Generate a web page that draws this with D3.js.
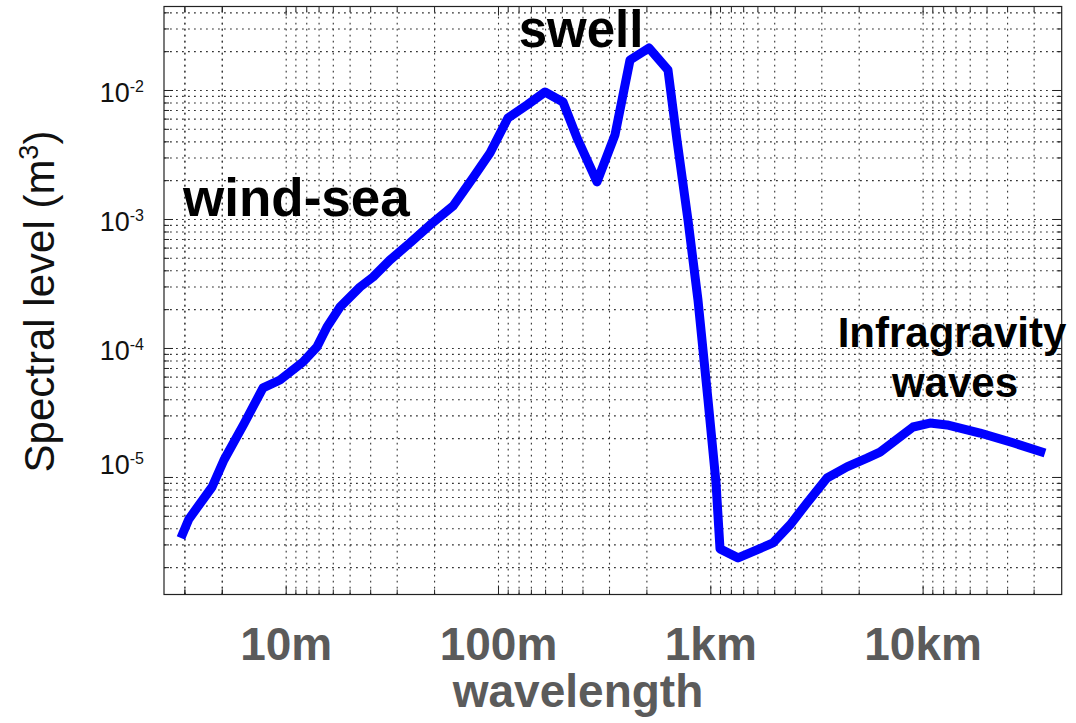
<!DOCTYPE html>
<html>
<head>
<meta charset="utf-8">
<script src="https://cdn.jsdelivr.net/npm/d3@7"></script>
<style>
  body { margin: 0; background: #fff; }
  svg { display: block; }
</style>
</head>
<body>
<svg id="chart" width="1076" height="723"></svg>
<script>
// Ocean surface wave spectrum: spectral level against wavelength
const wavelengthM = [
  3.21, 3.50, 4.50, 5.12, 6.36, 7.82, 9.40, 12.06, 14.04, 15.65,
  18.03, 22.4, 25.8, 31.0, 38.5, 47.8, 61.4, 76.2, 91.7, 111.4,
  137, 166.5, 202.4, 235.6, 292.7, 355.7, 418.7, 514.2, 632, 696.7,
  785, 875, 975.5, 1064, 1111, 1351, 1974, 2374, 2855, 3545,
  4403, 5471, 6301, 9013, 10835, 13030, 18640, 26660, 37720
];
const spectralLevel = [
  3.37e-6, 4.72e-6, 8.36e-6, 1.355e-5, 2.58e-5, 4.90e-5, 5.65e-5, 7.78e-5, 1.02e-4, 1.456e-4,
  2.08e-4, 2.97e-4, 3.55e-4, 4.81e-4, 6.52e-4, 8.97e-4, 1.26e-3, 2.08e-3, 3.25e-3, 6.07e-3,
  7.65e-3, 9.65e-3, 8.07e-3, 4.25e-3, 1.94e-3, 4.48e-3, 1.708e-2, 2.117e-2, 1.429e-2, 4.09e-3,
  9.82e-4, 2.35e-4, 3.95e-5, 8.98e-6, 2.77e-6, 2.36e-6, 3.08e-6, 4.25e-6, 6.29e-6, 9.82e-6,
  1.197e-5, 1.40e-5, 1.56e-5, 2.44e-5, 2.62e-5, 2.53e-5, 2.19e-5, 1.84e-5, 1.535e-5
];
const xTickValues = [10, 100, 1000, 10000];
const xTickLabels = ["10m", "100m", "1km", "10km"];
const yTickValues = [1e-2, 1e-3, 1e-4, 1e-5];
const yTickExponents = ["-2", "-3", "-4", "-5"];
const regionLabels = ["wind-sea", "swell", "Infragravity", "waves"];

const svg = d3.select("#chart");
const plot = { left: 164, right: 1061.7, top: 6.5, bottom: 594.5 };

const x = d3.scaleLog().domain([2.672, 45200]).range([plot.left, plot.right]);
const y = d3.scaleLog().domain([1.227e-6, 0.04439]).range([plot.bottom, plot.top]);

// Grid positions: x grid follows a reciprocal (frequency-based) spacing in each decade
const xGrid = [];
for (let k = 0; k <= 4; k++) {
  const base = Math.pow(10, k);
  [1, 10 / 9, 10 / 8, 10 / 7, 10 / 6, 10 / 5, 10 / 4, 10 / 3, 10 / 2].forEach(m => {
    const v = base * m;
    if (v > x.domain()[0] && v < x.domain()[1]) xGrid.push(v);
  });
}
const xGridLow = [10 / 3, 5].filter(v => v > x.domain()[0]);
xGridLow.forEach(v => xGrid.push(v));

const yGrid = [];
for (let k = -6; k <= -2; k++) {
  for (let m = 1; m <= 9; m++) {
    const v = m * Math.pow(10, k);
    if (v > y.domain()[0] && v < y.domain()[1]) yGrid.push(v);
  }
}

const h = plot.bottom - plot.top;
const w = plot.right - plot.left;

// dotted grid
const gridStyle = g => g.call(s => s.select(".domain").remove())
  .call(s => s.selectAll(".tick line")
    .attr("stroke", "#333").attr("stroke-width", 1.1)
    .attr("stroke-dasharray", "1.8,4.2"))
  .call(s => s.selectAll(".tick text").remove());

svg.append("g")
  .attr("transform", `translate(0,${plot.bottom})`)
  .call(d3.axisBottom(x).tickValues(xGrid).tickSize(-h))
  .call(gridStyle);

svg.append("g")
  .attr("transform", `translate(${plot.left},0)`)
  .call(d3.axisLeft(y).tickValues(yGrid).tickSize(-w))
  .call(gridStyle);

// inner ticks on all four sides
const isMajorX = v => xTickValues.includes(v);
const isMajorY = v => yTickValues.some(t => Math.abs(t - v) / t < 1e-9);
const tickStyle = g => g.call(s => s.select(".domain").remove())
  .call(s => s.selectAll(".tick text").remove())
  .call(s => s.selectAll(".tick line").attr("stroke", "#222").attr("stroke-width", 1));

function innerTicks(axisFn, scale, values, isMajor, transform, sign) {
  const g = svg.append("g").attr("transform", transform)
    .call(axisFn(scale).tickValues(values).tickSize(0))
    .call(tickStyle);
  g.selectAll(".tick line")
    .attr(axisFn === d3.axisBottom || axisFn === d3.axisTop ? "y2" : "x2",
      d => sign * (isMajor(d) ? 9 : 5));
}
innerTicks(d3.axisBottom, x, xGrid, isMajorX, `translate(0,${plot.bottom})`, -1);
innerTicks(d3.axisTop, x, xGrid, isMajorX, `translate(0,${plot.top})`, 1);
innerTicks(d3.axisLeft, y, yGrid, isMajorY, `translate(${plot.left},0)`, 1);
innerTicks(d3.axisRight, y, yGrid, isMajorY, `translate(${plot.right},0)`, -1);

// frame
svg.append("rect")
  .attr("x", plot.left).attr("y", plot.top)
  .attr("width", w).attr("height", h)
  .attr("fill", "none").attr("stroke", "#222").attr("stroke-width", 1.2);

// spectrum curve
const pts = wavelengthM.map((d, i) => [d, spectralLevel[i]]);
svg.append("path")
  .datum(pts)
  .attr("fill", "none")
  .attr("stroke", "#0000ff")
  .attr("stroke-width", 9)
  .attr("stroke-linejoin", "round")
  .attr("stroke-linecap", "butt")
  .attr("d", d3.line().x(d => x(d[0])).y(d => y(d[1])));

// x axis labels
const xLab = svg.append("g")
  .attr("transform", `translate(0,${plot.bottom})`)
  .call(d3.axisBottom(x).tickValues(xTickValues)
    .tickFormat((d, i) => xTickLabels[i]).tickSize(0).tickPadding(0));
xLab.select(".domain").remove();
xLab.selectAll(".tick text")
  .attr("dy", null).attr("y", 65)
  .attr("font-family", "'Liberation Sans', Arial, sans-serif")
  .attr("font-weight", "bold").attr("font-size", 46)
  .attr("fill", "#5b5b5b");

svg.append("text")
  .attr("x", 578).attr("y", 707)
  .attr("text-anchor", "middle")
  .attr("font-family", "'Liberation Sans', Arial, sans-serif")
  .attr("font-weight", "bold").attr("font-size", 46)
  .attr("fill", "#5b5b5b")
  .text("wavelength");

// y axis labels: powers of ten
const yLab = svg.append("g").selectAll("text")
  .data(yTickValues)
  .join("text")
  .attr("x", 144)
  .attr("y", (d, i) => y(d) + (i === yTickValues.length - 1 ? -3 : 12))
  .attr("text-anchor", "end")
  .attr("font-family", "'Liberation Sans', Arial, sans-serif")
  .attr("font-size", 27)
  .attr("fill", "#111");
yLab.append("tspan").text("10");
yLab.append("tspan").attr("dy", -10).attr("font-size", 16)
  .text((d, i) => yTickExponents[i]);

// y axis title
const yTitle = svg.append("text")
  .attr("transform", `translate(54,${(125 + 478) / 2}) rotate(-90)`)
  .attr("text-anchor", "middle")
  .attr("font-family", "'Liberation Sans', Arial, sans-serif")
  .attr("font-size", 42)
  .attr("fill", "#111");
yTitle.append("tspan").text("Spectral level (m");
yTitle.append("tspan").attr("dy", -16).attr("font-size", 27).text("3");
yTitle.append("tspan").attr("dy", 16).text(")");

// region annotations
const annStyle = s => s
  .attr("font-family", "'Liberation Sans', Arial, sans-serif")
  .attr("font-weight", "bold").attr("fill", "#000");
svg.append("text").call(annStyle).attr("font-size", 53)
  .attr("x", 183).attr("y", 216).text(regionLabels[0]);
svg.append("text").call(annStyle).attr("font-size", 51)
  .attr("x", 581).attr("y", 47).attr("text-anchor", "middle").text(regionLabels[1]);
svg.append("text").call(annStyle).attr("font-size", 42)
  .attr("x", 952).attr("y", 347).attr("text-anchor", "middle").text(regionLabels[2]);
svg.append("text").call(annStyle).attr("font-size", 42)
  .attr("x", 955).attr("y", 397).attr("text-anchor", "middle").text(regionLabels[3]);
</script>
</body>
</html>
